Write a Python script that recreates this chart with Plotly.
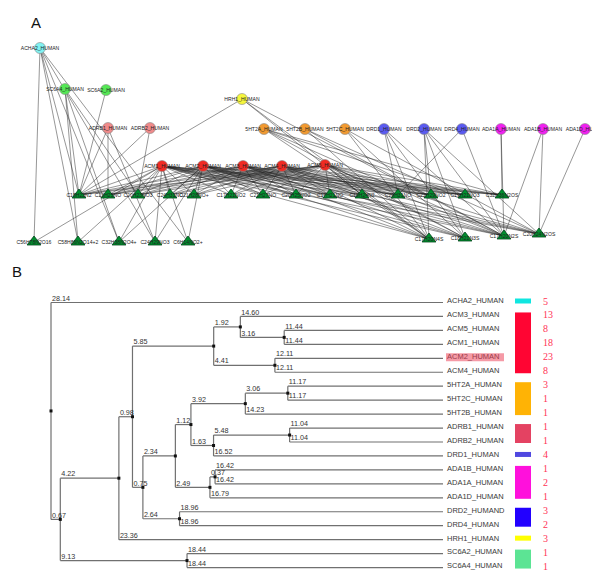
import plotly.graph_objects as go

# ================= Panel A : receptor-ligand network =================
receptor_names = ["ACHA2_HUMAN", "SC6A4_HUMAN", "SC6A2_HUMAN", "HRH1_HUMAN",
                  "ADRB1_HUMAN", "ADRB2_HUMAN", "5HT2A_HUMAN", "5HT2B_HUMAN",
                  "5HT2C_HUMAN", "DRD1_HUMAN", "DRD2_HUMAN", "DRD4_HUMAN",
                  "ADA1A_HUMAN", "ADA1B_HUMAN", "ADA1D_HUMAN", "ACM1_HUMAN",
                  "ACM2_HUMAN", "ACM3_HUMAN", "ACM4_HUMAN", "ACM5_HUMAN"]
receptor_family = ["ACHA", "SC6A", "SC6A", "HRH", "ADRB", "ADRB", "5HT2", "5HT2",
                   "5HT2", "DRD", "DRD", "DRD", "ADA1", "ADA1", "ADA1", "ACM",
                   "ACM", "ACM", "ACM", "ACM"]
ligand_row1 = ["C18H22N2", "C23H25NO", "C20H23NO3", "C24H31NO", "C21H28NO+",
               "C17H21NO2", "C21H27NO", "C20H25NO2", "C17H21NO", "C19H24N2",
               "C29H31NO", "C22H29NO2", "C19H21NO3", "C32H36N2OS"]
ligand_row2 = ["C56H78N2O16", "C58H86N2O14+2", "C32H38N2O4+", "C24H29NO3",
               "C6H14NO2+", "C17H20N4S", "C18H21N3S", "C17H20N2S", "C20H24N2OS"]

# interactions (receptor -> ligands)
acm_common = ligand_row1 + ["C17H20N4S", "C18H21N3S", "C17H20N2S", "C20H24N2OS"]
interactions = {
    "ACHA2_HUMAN": ["C56H78N2O16", "C58H86N2O14+2", "C18H22N2", "C32H38N2O4+", "C24H29NO3", "C6H14NO2+"],
    "SC6A4_HUMAN": ["C58H86N2O14+2", "C18H22N2", "C32H38N2O4+", "C20H23NO3"],
    "SC6A2_HUMAN": ["C18H22N2"],
    "ADRB1_HUMAN": ["C18H22N2", "C23H25NO", "C24H29NO3"],
    "ADRB2_HUMAN": ["C18H22N2", "C20H23NO3"],
    "HRH1_HUMAN": ["C18H22N2", "C17H20N4S", "C17H20N2S", "C19H24N2"],
    "5HT2A_HUMAN": ["C17H20N4S", "C18H21N3S", "C17H20N2S", "C19H21NO3", "C32H36N2OS"],
    "5HT2B_HUMAN": ["C17H20N4S", "C17H20N2S", "C20H24N2OS"],
    "5HT2C_HUMAN": ["C17H20N4S", "C18H21N3S", "C20H24N2OS"],
    "DRD1_HUMAN": ["C29H31NO", "C17H20N4S", "C18H21N3S", "C17H20N2S"],
    "DRD2_HUMAN": ["C22H29NO2", "C17H20N4S", "C18H21N3S", "C17H20N2S", "C20H24N2OS"],
    "DRD4_HUMAN": ["C29H31NO", "C17H20N2S"],
    "ADA1A_HUMAN": ["C32H36N2OS", "C17H20N2S"],
    "ADA1B_HUMAN": ["C17H20N2S", "C20H24N2OS"],
    "ADA1D_HUMAN": ["C20H24N2OS"],
    "ACM1_HUMAN": acm_common + ["C56H78N2O16", "C58H86N2O14+2", "C32H38N2O4+", "C24H29NO3", "C6H14NO2+"],
    "ACM2_HUMAN": acm_common + ["C32H38N2O4+", "C24H29NO3", "C6H14NO2+"],
    "ACM3_HUMAN": acm_common,
    "ACM4_HUMAN": acm_common,
    "ACM5_HUMAN": acm_common,
}

# layout of the network (node placement, in page pixels)
receptor_x = [32, 57, 98, 234, 100, 142, 256, 297, 337, 376, 416, 454, 493, 535, 577,
              154, 195, 235, 274, 317]
receptor_y = [40, 81, 82, 91, 120, 120, 121, 121, 121, 121, 121, 121, 121, 121, 121,
              158, 158, 158, 158, 157]
row1_x = [71, 100, 130, 162, 186, 223, 255, 288, 322, 354, 390, 423, 457, 494]
row1_y = [187] * 14
row2_x = [26, 70, 111, 147, 180, 421, 457, 496, 531]
row2_y = [234, 234, 234, 234, 234, 231, 230, 228, 226]

family_color = {"ACHA": "#80f2f2", "SC6A": "#55e855", "HRH": "#f6f63c", "ADRB": "#f08a8a",
                "5HT2": "#f29a30", "DRD": "#5a5af0", "ADA1": "#f020f0", "ACM": "#f02a22"}

# ================= Panel B : dendrogram =================
leaf_names = ["ACHA2_HUMAN", "ACM3_HUMAN", "ACM5_HUMAN", "ACM1_HUMAN", "ACM2_HUMAN",
              "ACM4_HUMAN", "5HT2A_HUMAN", "5HT2C_HUMAN", "5HT2B_HUMAN", "ADRB1_HUMAN",
              "ADRB2_HUMAN", "DRD1_HUMAN", "ADA1B_HUMAN", "ADA1A_HUMAN", "ADA1D_HUMAN",
              "DRD2_HUMAND", "DRD4_HUMAN", "HRH1_HUMAN", "SC6A2_HUMAN", "SC6A4_HUMAN"]
leaf_counts = [5, 13, 8, 18, 23, 8, 3, 1, 1, 1, 1, 4, 1, 2, 1, 3, 2, 3, 1, 1]
highlight_leaf = "ACM2_HUMAN"

tree = {
    "root": [("ACHA2_HUMAN", 28.14), ("n1", 0.67)],
    "n1": [("n2", 4.22), ("nSC", 9.13)],
    "nSC": [("SC6A2_HUMAN", 18.44), ("SC6A4_HUMAN", 18.44)],
    "n2": [("n3", 0.98), ("HRH1_HUMAN", 23.36)],
    "n3": [("nACM", 5.85), ("n4", 0.75)],
    "nACM": [("nA1", 1.92), ("nA2", 4.41)],
    "nA1": [("ACM3_HUMAN", 14.60), ("nA11", 3.16)],
    "nA11": [("ACM5_HUMAN", 11.44), ("ACM1_HUMAN", 11.44)],
    "nA2": [("ACM2_HUMAN", 12.11), ("ACM4_HUMAN", 12.11)],
    "n4": [("n5", 2.34), ("nDRD", 2.64)],
    "nDRD": [("DRD2_HUMAND", 18.96), ("DRD4_HUMAN", 18.96)],
    "n5": [("n6", 1.12), ("nADA", 2.49)],
    "n6": [("nHT", 3.92), ("nT", 1.63)],
    "nHT": [("nHT2", 3.06), ("5HT2B_HUMAN", 14.23)],
    "nHT2": [("5HT2A_HUMAN", 11.17), ("5HT2C_HUMAN", 11.17)],
    "nT": [("nADRB", 5.48), ("DRD1_HUMAN", 16.52)],
    "nADRB": [("ADRB1_HUMAN", 11.04), ("ADRB2_HUMAN", 11.04)],
    "nADA": [("nADA2", 0.37), ("ADA1D_HUMAN", 16.79)],
    "nADA2": [("ADA1B_HUMAN", 16.42), ("ADA1A_HUMAN", 16.42)],
}

groups = [  # (first leaf, last leaf, colour)
    ("ACHA2_HUMAN", "ACHA2_HUMAN", "#10e6e0"),
    ("ACM3_HUMAN", "ACM4_HUMAN", "#ff0533"),
    ("5HT2A_HUMAN", "5HT2B_HUMAN", "#ffb305"),
    ("ADRB1_HUMAN", "ADRB2_HUMAN", "#e44262"),
    ("DRD1_HUMAN", "DRD1_HUMAN", "#5048e0"),
    ("ADA1B_HUMAN", "ADA1D_HUMAN", "#ff10dc"),
    ("DRD2_HUMAND", "DRD4_HUMAN", "#2200ff"),
    ("HRH1_HUMAN", "HRH1_HUMAN", "#ffff00"),
    ("SC6A2_HUMAN", "SC6A4_HUMAN", "#5ce494"),
]

# ---------------- build figure ----------------
fig = go.Figure()

pos = {}
for n, x, y in zip(receptor_names, receptor_x, receptor_y):
    pos[n] = (x, y)
for n, x, y in zip(ligand_row1, row1_x, row1_y):
    pos[n] = (x, y)
for n, x, y in zip(ligand_row2, row2_x, row2_y):
    pos[n] = (x, y)

ex, ey = [], []
for r, targets in interactions.items():
    for t in targets:
        ex += [pos[r][0], pos[t][0], None]
        ey += [pos[r][1], pos[t][1], None]
fig.add_trace(go.Scatter(x=ex, y=ey, mode="lines",
                         line=dict(color="rgba(35,35,35,0.8)", width=0.6),
                         hoverinfo="skip"))

ligands = ligand_row1 + ligand_row2
fig.add_trace(go.Scatter(
    x=[pos[l][0] for l in ligands], y=[pos[l][1] for l in ligands], mode="markers",
    marker=dict(symbol="triangle-up", size=12, color="#00902e",
                line=dict(color="#00441a", width=0.8)), hoverinfo="skip"))
fig.add_trace(go.Scatter(
    x=receptor_x, y=receptor_y, mode="markers",
    marker=dict(symbol="circle", size=11,
                color=[family_color[f] for f in receptor_family],
                line=dict(color="#888888", width=0.6)), hoverinfo="skip"))
fig.add_trace(go.Scatter(
    x=[pos[n][0] for n in receptor_names + ligands],
    y=[pos[n][1] + 1 for n in receptor_names + ligands],
    mode="text", text=receptor_names + ligands, textposition="middle center",
    textfont=dict(family="Arial", size=5.1, color="#222222"), hoverinfo="skip"))

# ---- dendrogram geometry from the tree ----
X0, X_END = 43.0, 435.0
Y0, DY = 294.5, 13.95
TOTAL = 28.24
scale = (X_END - X0) / TOTAL
leaf_idx = {n: i for i, n in enumerate(leaf_names)}
nx, ny = {}, {}


def place(node, depth):
    nx[node] = X0 + depth * scale
    if node in leaf_idx:
        ny[node] = Y0 + DY * leaf_idx[node]
        return
    ys = []
    for child, blen in tree[node]:
        place(child, depth + blen)
        ys.append(ny[child])
    ny[node] = sum(ys) / len(ys)


place("root", 0.0)

lx, ly = [], []
lab_x, lab_y, lab_t = [], [], []
dot_x, dot_y = [], []
for node, children in tree.items():
    c1, c2 = children[0][0], children[1][0]
    lx += [nx[node], nx[node], None]
    ly += [ny[c1], ny[c2], None]
    dot_x.append(nx[node])
    dot_y.append(ny[node])
    for child, blen in children:
        xend = X_END if child in leaf_idx else nx[child]
        lx += [nx[node], xend, None]
        ly += [ny[child], ny[child], None]
        lab_x.append(nx[node] + 1)
        lab_y.append(ny[child] - 3.6)
        lab_t.append(f"{blen:.2f}")

fig.add_trace(go.Scatter(x=lx, y=ly, mode="lines",
                         line=dict(color="#707070", width=1.2), hoverinfo="skip"))
fig.add_trace(go.Scatter(x=dot_x, y=dot_y, mode="markers",
                         marker=dict(symbol="square", size=3, color="#111111"),
                         hoverinfo="skip"))
fig.add_trace(go.Scatter(x=lab_x, y=lab_y, mode="text", text=lab_t,
                         textposition="middle right",
                         textfont=dict(family="Arial", size=7.2, color="#333333"),
                         hoverinfo="skip"))

# highlight box for ACM2
hy = Y0 + DY * leaf_idx[highlight_leaf]
fig.add_shape(type="rect", x0=438, x1=496, y0=hy - 5, y1=hy + 3,
              fillcolor="#f59aa6", line=dict(width=0), layer="below")

leaf_y = [Y0 + DY * i for i in range(len(leaf_names))]
fig.add_trace(go.Scatter(
    x=[439] * len(leaf_names), y=[y - 1 for y in leaf_y], mode="text",
    text=leaf_names, textposition="middle right",
    textfont=dict(family="Arial", size=7.5,
                  color=["#9a3a4a" if n == highlight_leaf else "#3a3a3a" for n in leaf_names]),
    hoverinfo="skip"))

for first, last, col in groups:
    fig.add_shape(type="rect", x0=507, x1=523,
                  y0=Y0 + DY * leaf_idx[first] - 4, y1=Y0 + DY * leaf_idx[last] + 1,
                  fillcolor=col, line=dict(width=0))

fig.add_trace(go.Scatter(
    x=[535] * len(leaf_counts), y=[y - 0.5 for y in leaf_y], mode="text",
    text=[str(c) for c in leaf_counts], textposition="middle right",
    textfont=dict(family="Liberation Serif", size=10, color="#ff3355"),
    hoverinfo="skip"))

fig.add_annotation(x=28, y=14, text="A", showarrow=False,
                   font=dict(family="Arial", size=15, color="#111111"))
fig.add_annotation(x=9, y=263, text="B", showarrow=False,
                   font=dict(family="Arial", size=15, color="#111111"))

fig.update_layout(
    width=600, height=570, margin=dict(l=0, r=0, t=0, b=0),
    paper_bgcolor="white", plot_bgcolor="white", showlegend=False,
    xaxis=dict(range=[0, 600], visible=False, fixedrange=True),
    yaxis=dict(range=[570, 0], visible=False, fixedrange=True),
)

fig.write_html("out.html")
